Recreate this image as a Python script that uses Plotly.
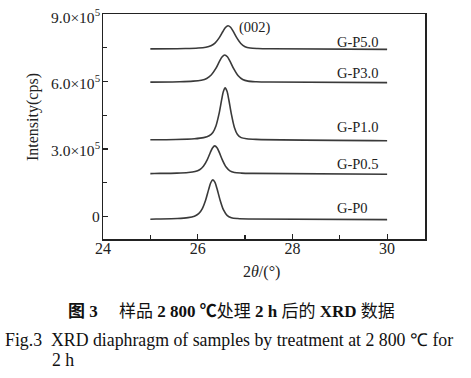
import plotly.graph_objects as go

# ---- data ----
tt_P0 = [25.0, 25.12, 25.57, 25.795, 25.93, 26.02, 26.095, 26.17, 26.23, 26.275, 26.32,
         26.365, 26.41, 26.47, 26.545, 26.62, 26.71, 26.845, 27.07, 30.0]
I_P0 = [-12000, -11400, -8950, -5080, 1260, 12520, 34340, 75000, 119530, 149980, 163000,
        151210, 121820, 75000, 29060, 5300, -5080, -8950, -10890, -14000]

tt_P05 = [25.0, 25.08, 25.56, 25.80, 25.944, 26.04, 26.12, 26.20, 26.264, 26.312, 26.36,
          26.408, 26.456, 26.52, 26.60, 26.68, 26.776, 26.92, 27.16, 30.0]
I_P05 = [190700, 191100, 192850, 195580, 200040, 207980, 223360, 252000, 283370, 304820, 314000,
         305690, 284980, 252000, 219640, 202900, 195580, 192850, 191490, 188000]

tt_P10 = [25.0, 25.54, 25.93, 26.125, 26.242, 26.32, 26.385, 26.45, 26.502, 26.541, 26.58,
          26.619, 26.658, 26.71, 26.775, 26.84, 26.918, 27.035, 27.23, 30.0]
I_P10 = [341200, 342130, 345340, 350440, 358790, 373640, 402410, 456000, 514700, 554830, 572000,
         556460, 517710, 456000, 395450, 364130, 350440, 345340, 342780, 337000]

tt_P30 = [25.0, 25.62, 25.905, 26.076, 26.19, 26.285, 26.38, 26.456, 26.513, 26.57,
          26.627, 26.684, 26.76, 26.855, 26.95, 27.064, 27.235, 27.52, 30.0]
I_P30 = [597200, 598810, 601490, 605880, 613690, 628820, 657000, 687870, 708970, 718000,
         709830, 689450, 657000, 625160, 608690, 601490, 598810, 597460, 595000]

tt_P50 = [25.0, 25.74, 26.01, 26.172, 26.28, 26.37, 26.46, 26.532, 26.586, 26.64,
          26.694, 26.748, 26.82, 26.91, 27.0, 27.108, 27.27, 27.54, 30.0]
I_P50 = [744800, 746390, 748680, 752420, 759080, 771980, 796000, 822310, 840300, 848000,
         841030, 823660, 796000, 768860, 754820, 748680, 746390, 745250, 743000]

series_names = ["G-P0", "G-P0.5", "G-P1.0", "G-P3.0", "G-P5.0"]
label_x = 28.9
label_y = [40000, 234000, 397000, 640000, 777000]

x_tickvals = [24, 26, 28, 30]
y_tickvals = [0, 300000, 600000, 900000]
y_ticktext = ["0", "3.0×10<sup>5</sup>", "6.0×10<sup>5</sup>", "9.0×10<sup>5</sup>"]

SERIF = "Liberation Serif"
LINE = "#3a3a3a"

W, H = 471, 378
L, T, R, B = 103, 14, 471 - 425, 378 - 239
PW, PH = 425 - 103, 239 - 14


def px(xp):
    return (xp - 103) / PW


def py(yp):
    return (239 - yp) / PH


fig = go.Figure()
for xs, ys, nm in zip([tt_P0, tt_P05, tt_P10, tt_P30, tt_P50],
                      [I_P0, I_P05, I_P10, I_P30, I_P50], series_names):
    fig.add_trace(go.Scatter(x=xs, y=ys, mode="lines", name=nm,
                             line=dict(color=LINE, width=1.6, shape="spline", smoothing=0.8),
                             showlegend=False, hoverinfo="skip"))

annots = []
for nm, ly in zip(series_names, label_y):
    annots.append(dict(x=label_x, y=ly, xref="x", yref="y", text=nm, showarrow=False,
                       xanchor="left", yanchor="middle",
                       font=dict(family=SERIF, size=14.5, color="#222")))
annots.append(dict(x=26.83, y=838000, xref="x", yref="y", text="(002)", showarrow=False,
                   xanchor="left", yanchor="middle", font=dict(family=SERIF, size=14.5, color="#222")))
# y tick labels (placed tight against the axis as in the reference)
for tv, tx in zip(y_tickvals, y_ticktext):
    annots.append(dict(x=0, y=tv, xref="paper", yref="y", text=tx, showarrow=False,
                       xanchor="right", yanchor="middle", xshift=-1,
                       yshift=-2 if tv == y_tickvals[-1] else 0,
                       font=dict(family=SERIF, size=15.5, color="#222")))
# axis titles
annots.append(dict(x=px(33), y=py(117), xref="paper", yref="paper", text="Intensity(cps)",
                   showarrow=False, textangle=-90, xanchor="center", yanchor="middle",
                   font=dict(family=SERIF, size=16, color="#222")))
annots.append(dict(x=px(261), y=py(272), xref="paper", yref="paper", text="2<i>θ</i>/(°)",
                   showarrow=False, xanchor="center", yanchor="middle",
                   font=dict(family=SERIF, size=16, color="#222")))
# captions
annots.append(dict(x=px(231), y=py(311), xref="paper", yref="paper",
                   text="<b>图 3</b>　 样品 <b>2 800 ℃</b>处理 <b>2 h</b> 后的 <b>XRD</b> 数据",
                   showarrow=False, xanchor="center", yanchor="middle",
                   font=dict(family="Liberation Serif, Noto Sans CJK SC", size=17, color="#111")))
annots.append(dict(x=px(3), y=py(340), xref="paper", yref="paper",
                   text="Fig.3  XRD diaphragm of samples by treatment at 2 800 ℃ for",
                   showarrow=False, xanchor="left", yanchor="middle",
                   font=dict(family=SERIF, size=17.8, color="#111")))
annots.append(dict(x=px(50), y=py(360), xref="paper", yref="paper",
                   text="2 h", showarrow=False, xanchor="left", yanchor="middle",
                   font=dict(family=SERIF, size=17.8, color="#111")))

fig.update_layout(
    width=W, height=H,
    margin=dict(l=L, r=R, t=T, b=B, pad=0),
    paper_bgcolor="white", plot_bgcolor="white",
    annotations=annots,
    xaxis=dict(range=[24, 30.8], tickvals=x_tickvals, ticks="inside", ticklen=5,
               tickwidth=1.2, tickcolor="#222", ticklabelstandoff=-6,
               minor=dict(tickvals=[25, 27, 29], ticks="inside", ticklen=4, tickcolor="#222", tickwidth=1.2),
               showline=True, linecolor="#222", linewidth=1.5, mirror=True,
               showgrid=False, zeroline=False,
               tickfont=dict(family=SERIF, size=16, color="#222")),
    yaxis=dict(range=[-100000, 900000], tickvals=y_tickvals, showticklabels=False,
               ticks="inside", ticklen=5, tickwidth=1.2, tickcolor="#222",
               minor=dict(tickvals=[150000, 450000, 750000], ticks="inside", ticklen=4,
                          tickcolor="#222", tickwidth=1.2),
               showline=True, linecolor="#222", linewidth=1.5, mirror=True,
               showgrid=False, zeroline=False),
)

fig.write_html("out.html", config={"displayModeBar": False, "staticPlot": True},
               post_script="document.body.style.margin='0px';document.body.style.overflow='hidden';")
